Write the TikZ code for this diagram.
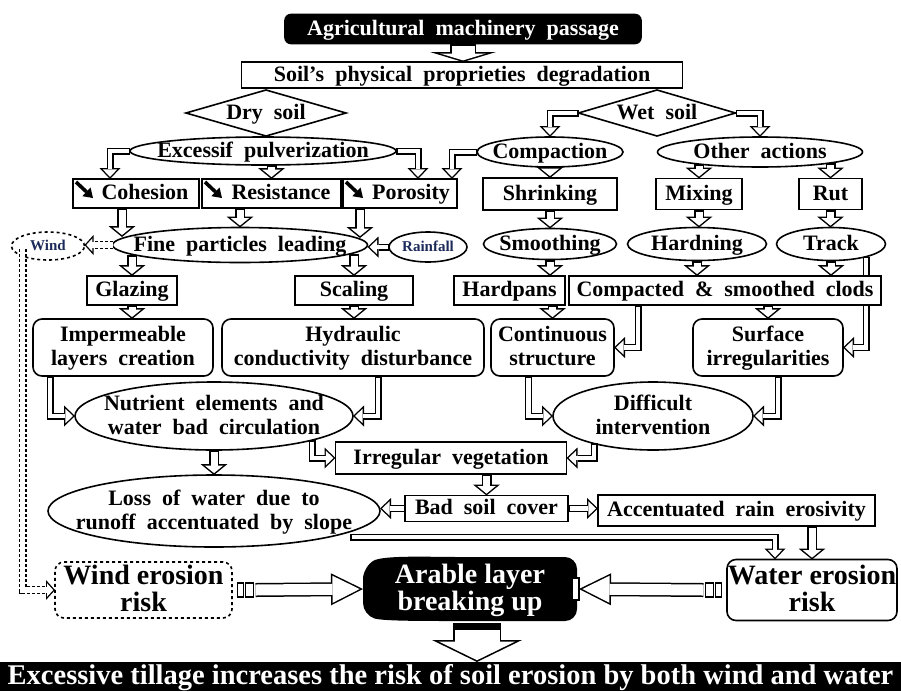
\documentclass[tikz,border=0pt]{standalone}
\usepackage{fontspec}
\setmainfont{Liberation Serif}[WordSpace=2]
\newfontfamily\plainserif{Liberation Serif}
\usetikzlibrary{arrows.meta, shapes.geometric, calc, backgrounds}
\definecolor{windblue}{HTML}{1C2B5A}
\newcommand{\tx}[1]{\smash{\makebox[0pt]{\raisebox{-0.3em}{\begin{tabular}{@{}c@{}}#1\end{tabular}}}}}

\tikzset{
  sz/.style 2 args={minimum width=#1pt, minimum height=#2pt},
  lbl/.style={font=\bfseries\fontsize{22}{24}\selectfont, inner sep=0pt, outer sep=0pt, line width=1.6pt},
  big/.style={font=\plainserif\bfseries\fontsize{28}{27}\selectfont},
  small/.style={font=\bfseries\fontsize{15}{17}\selectfont, text=windblue},
  box/.style={lbl, draw, rectangle},
  rbox/.style={box, rounded corners=9pt},
  oval/.style={lbl, draw, ellipse},
  dia/.style={lbl, draw, diamond},
  flow/.style={draw=black, line width=10pt, -{Triangle[length=11pt, width=27pt, line width=0pt]},
    postaction={draw=white, line width=7pt, shorten <=2pt, shorten >=1.9pt,
      -{Triangle[length=7.6pt, width=18.6pt, line width=0pt]}}},
  elbow/.style={draw=black, line width=7pt, -{Triangle[length=11pt, width=21pt, line width=0pt]},
    postaction={draw=white, line width=4.2pt, shorten <=1.5pt, shorten >=2pt,
      -{Triangle[length=7.6pt, width=14.4pt, line width=0pt]}}},
  flowdash/.style={draw=black, line width=8pt, dash pattern=on 3pt off 2pt, -{Triangle[length=9pt, width=20pt, line width=0pt]},
    postaction={draw=white, solid, line width=5.4pt, shorten >=1.8pt,
      -{Triangle[length=6pt, width=13.2pt, line width=0pt]}}},
  flowwide/.style={draw=black, line width=26pt, -{Triangle[length=10pt, width=66pt, line width=0pt]},
    postaction={draw=white, line width=23pt, shorten <=2pt, shorten >=1.6pt,
      -{Triangle[length=6.9pt, width=45.7pt, line width=0pt]}}},
  flowside/.style={draw=black, line width=14pt, -{Triangle[length=32pt, width=32pt, line width=0pt]},
    postaction={draw=white, line width=11pt, shorten <=0pt, shorten >=3.4pt,
      -{Triangle[length=27.1pt, width=27.1pt, line width=0pt]}}},
  flowdown/.style={draw=black, line width=48pt, -{Triangle[length=22pt, width=90pt, line width=0pt]},
    postaction={draw=white, line width=45pt, shorten <=7pt, shorten >=1.8pt,
      -{Triangle[length=18.6pt, width=76pt, line width=0pt]}}},
  stripe/.style={draw=black, fill=white, line width=1.3pt},
  decr/.style={line width=3.6pt, -{Triangle[length=9pt, width=12pt, line width=0pt]}}
}

\begin{document}
\begin{tikzpicture}[x=1pt, y=-1pt]
  \useasboundingbox (0,0) rectangle (901,691);
  % Top of the chart
  \node[box, fill=black, text=white, rounded corners=6pt, sz={356}{29}] (agri) at (463,29)
    {\tx{Agricultural machinery passage}};
  \node[box, sz={441}{26}] (soil) at (462,75)
    {\tx{Soil's physical proprieties degradation}};
  \node[dia, sz={160}{46}] (dry) at (266,113) {\tx{Dry soil}};
  \node[dia, sz={157}{46}] (wet) at (657,113) {\tx{Wet soil}};
  % Dry soil branch
  \node[oval, sz={266}{28}] (exc) at (263,151) {\tx{Excessif pulverization}};
  \node[box, sz={126}{29}] (coh) at (136,193.5) {\tx{\hspace{18pt}Cohesion}};
  \node[box, sz={139}{29}] (res) at (271.5,193.5) {\tx{\hspace{19pt}Resistance}};
  \node[box, sz={114}{29}] (por) at (400,193.5) {\tx{\hspace{22pt}Porosity}};
  % Wet soil branch
  \node[oval, sz={146}{30}] (comp) at (550,152) {\tx{Compaction}};
  \node[oval, sz={205}{30}] (oth) at (760,152) {\tx{Other actions}};
  \node[box, sz={134}{32}] (shr) at (550,194) {\tx{Shrinking}};
  \node[box, sz={86}{31}] (mix) at (699,194) {\tx{Mixing}};
  \node[box, sz={63}{31}] (rut) at (830.5,194) {\tx{Rut}};
  % Third row
  \node[oval, small, dashed, sz={73}{28}] (wind) at (48,246) {\tx{Wind}};
  \node[oval, sz={255}{35}] (fine) at (240,245) {\tx{Fine particles leading}};
  \node[oval, small, sz={78}{30}] (rain) at (428,247) {\tx{Rainfall}};
  \node[oval, sz={133}{31}] (smo) at (550,244) {\tx{Smoothing}};
  \node[oval, sz={139}{33}] (hard) at (697,244) {\tx{Hardning}};
  \node[oval, sz={109}{33}] (trk) at (831,244) {\tx{Track}};
  % Fourth row
  \node[box, sz={90}{29}] (glz) at (132,290.5) {\tx{Glazing}};
  \node[box, sz={118}{29}] (scl) at (354,290.5) {\tx{Scaling}};
  \node[box, sz={111}{29}] (hpn) at (509.5,290.5) {\tx{Hardpans}};
  \node[box, fill=white, sz={312}{29}] (ccl) at (725,290.5) {\tx{Compacted \& smoothed clods}};
  % Fifth row
  \node[rbox, sz={180}{57}] (imp) at (123,347.5) {\tx{Impermeable\\layers creation}};
  \node[rbox, sz={262}{57}] (hyd) at (353,347.5) {\tx{Hydraulic\\conductivity disturbance}};
  \node[rbox, sz={123}{57}] (cst) at (552.5,347.5) {\tx{Continuous\\structure}};
  \node[rbox, sz={150}{57}] (sir) at (768,347.5) {\tx{Surface\\irregularities}};
  % Consequences
  \node[oval, sz={278}{68}] (nut) at (214,416) {\tx{Nutrient elements and\\water bad circulation}};
  \node[oval, sz={200}{68}] (dif) at (653,416) {\tx{Difficult\\intervention}};
  \node[box, sz={231}{32}] (irr) at (451,458) {\tx{Irregular vegetation}};
  \node[oval, sz={332}{72}] (los) at (214,511) {\tx{Loss of water due to\\runoff accentuated by slope}};
  \node[box, sz={163}{26}] (bsc) at (486.5,508.5) {\tx{Bad soil cover}};
  \node[box, sz={277}{31}] (acc) at (736.5,510.5) {\tx{Accentuated rain erosivity}};
  % Erosion risks
  \node[rbox, big, dashed, sz={177}{56}] (wer) at (143.5,590) {\tx{Wind erosion\\risk}};
  \node[lbl, big, text=white, sz={214}{64}] (arb) at (470,589) {\tx{Arable layer\\breaking up}};
  \node[rbox, big, sz={170}{61}] (wat) at (812,590) {\tx{Water erosion\\risk}};
  \node[lbl, big, fill=black, text=white, sz={901}{29}, font=\plainserif\bfseries\fontsize{28.5}{30}\selectfont] (ban)
    at (450.5,676.5) {\tx{Excessive tillage increases the risk of soil erosion by both wind and water}};
  \begin{pgfonlayer}{background}
    \fill[rounded corners=12pt] ($(arb.north west)+(0,10)$) .. controls ($(arb.north west)+(20,-2)$) and ($(arb.north)+(-40,0)$)
      .. (arb.north) -- (arb.north east) -- (arb.south east)
      -- (arb.south) .. controls ($(arb.south)+(-50,0)$) and ($(arb.south west)+(20,0)$) .. ($(arb.south west)+(0,-6)$) -- cycle;
    % Track runs behind the clods box
    \draw[elbow] ($(trk.south)+(35,-4)$) |- (sir.east);
  \end{pgfonlayer}
  \draw[stripe] ($(arb.east)+(-5,-11)$) rectangle ($(arb.east)+(2,11)$);

  % Small decrease arrows
  \draw[decr] ($(coh.north west)+(3,3)$) -- ++(17,16);
  \draw[decr] ($(res.north west)+(3,3)$) -- ++(17,16);
  \draw[decr] ($(por.north west)+(3,3)$) -- ++(17,16);

  % From machinery passage
  \draw[flowwide] (agri.south) -- (agri.south |- soil.north);
  % Dry soil branch
  \draw[elbow] (exc.west) -| ($(coh.north)+(-26,0)$);
  \draw[flow] (res.north |- exc.south) -- (res.north);
  \draw[elbow] (exc.east) -| ($(por.north)+(18,0)$);
  \draw[elbow] (comp.west) -| ($(por.north)+(52,0)$);
  % Wet soil branch
  \draw[elbow] (wet.west) -| (comp.north);
  \draw[elbow] (wet.east) -| (oth.north);
  \draw[flow] (comp.south) -- (shr.north);
  \draw[flow] ($(mix.north |- oth.south)+(0,-3)$) -- (mix.north);
  \draw[flow] ($(rut.north |- oth.south)+(0,-4)$) -- (rut.north);
  % Into fine particles
  \draw[flow] ($(coh.south)+(-14,0)$) -- ($(coh.south)+(-14,29)$);
  \draw[flow] (res.south -| fine.north) -- (fine.north);
  \draw[flow] ($(por.south)+(-40,0)$) -- ($(por.south)+(-40,30)$);
  \draw[elbow] (rain.west) -- (rain.west -| fine.east);
  \draw[flowdash] (fine.west) -- (fine.west -| wind.east);
  \draw[flowdash] ($(wind.center)+(-25.5,3)$) |- (wer.west);
  % Second level
  \draw[flow] ($(glz.north |- fine.south)+(0,-8)$) -- (glz.north);
  \draw[flow] ($(scl.north |- fine.south)+(0,-9)$) -- (scl.north);
  \draw[flow] (shr.south) -- (smo.north);
  \draw[flow] (mix.south) -- (mix.south |- hard.north);
  \draw[flow] (rut.south) -- (rut.south |- trk.north);
  \draw[flow] (smo.south) -- (smo.south |- hpn.north);
  \draw[flow] (hard.south) -- (hard.south |- ccl.north);
  \draw[flow] (trk.south) -- (trk.south |- ccl.north);
  % Third level
  \draw[flow] (glz.south) -- (glz.south |- imp.north);
  \draw[flow] (scl.south) -- (scl.south |- hyd.north);
  \draw[flow] (hpn.south -| cst.north) -- (cst.north);
  \draw[flow] (ccl.south -| sir.north) -- (sir.north);
  \draw[elbow] ($(ccl.south)+(-87,0)$) |- (cst.east);
  % Into nutrient and difficult
  \draw[elbow] ($(imp.south)+(-73,0)$) |- (nut.west);
  \draw[elbow] ($(hyd.south)+(25,0)$) |- (nut.east);
  \draw[elbow] ($(cst.south)+(-24,0)$) |- (dif.west);
  \draw[elbow] ($(sir.south)+(10,0)$) |- (dif.east);
  % Vegetation and soil cover
  \draw[elbow] ($(nut.south)+(98,-10)$) |- (irr.west);
  \draw[elbow] ($(dif.south)+(-59,-7)$) |- (irr.east);
  \draw[flow] (nut.south) -- (los.north);
  \draw[flow] (irr.south -| bsc.north) -- (bsc.north);
  \draw[elbow] (bsc.west) -- (bsc.west -| los.east);
  \draw[elbow] (bsc.east) -- (bsc.east -| acc.west);
  \draw[elbow] ($(los.south)+(136,-10)$) -| ($(wat.north)+(-37,0)$);
  \draw[flow] (acc.south -| wat.north) -- (wat.north);
  % Risks to the arable layer
  \draw[stripe] ($(wer.east)+(5.5,-7)$) rectangle ($(wer.east)+(11.5,7)$);
  \draw[stripe] ($(wer.east)+(13.5,-7)$) rectangle ($(wer.east)+(21.5,7)$);
  \draw[flowside] ($(wer.east)+(23.5,0)$) -- (arb.west);
  \draw[stripe] ($(wat.west)+(-5.5,-7)$) rectangle ($(wat.west)+(-11.5,7)$);
  \draw[stripe] ($(wat.west)+(-13.5,-7)$) rectangle ($(wat.west)+(-21.5,7)$);
  \draw[flowside] ($(wat.west)+(-23.5,0)$) -- ($(arb.east)+(2,0)$);
  \draw[flowdown] ($(arb.south)+(7,2)$) -- ($(arb.south |- ban.north)+(7,0)$);
\end{tikzpicture}
\end{document}
